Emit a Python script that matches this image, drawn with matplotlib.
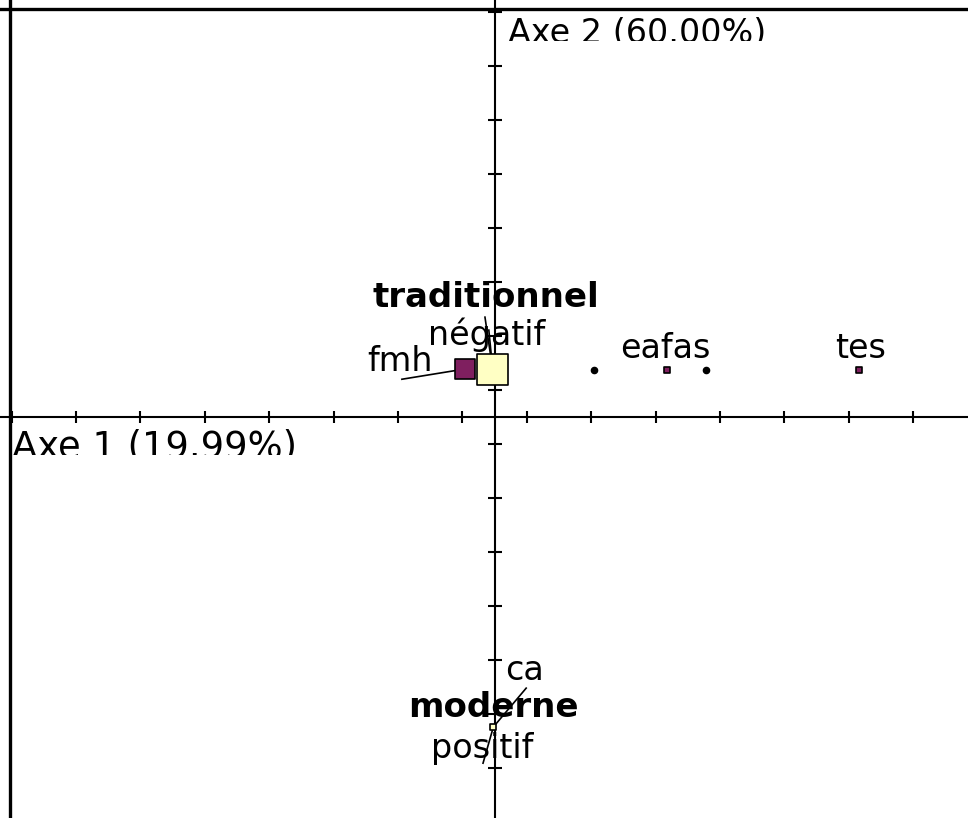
import numpy as np
import matplotlib.pyplot as plt
from matplotlib.transforms import Bbox, TransformedBbox

# factor map values (axis units = tick spacing)
col_labels = ["fmh", "eafas", "tes"]
col_x = [-0.46, 2.68, 5.66]
col_y = [0.88, 0.86, 0.86]
col_weight = [1.0, 0.08, 0.08]

row_labels = [["traditionnel", "négatif"], ["moderne", "ca", "positif"]]
row_x = [-0.03, -0.02]
row_y = [0.87, -5.75]
row_weight = [1.0, 0.035]

sup_x = [1.55, 3.28]
sup_y = [0.86, 0.86]

axis1_label = "Axe 1 (19.99%)"
axis2_label = "Axe 2 (60.00%)"

# label layout: text -> (x, y, bold, leader end or None)
label_pos = {
    "traditionnel": (-0.13, 2.03, True, (-0.15, 1.84)),
    "négatif": (-0.12, 1.32, False, (-0.09, 1.60)),
    "fmh": (-1.47, 0.84, False, (-1.44, 0.69)),
    "eafas": (2.65, 1.08, False, None),
    "tes": (5.68, 1.08, False, None),
    "ca": (0.46, -4.88, False, (0.49, -5.03)),
    "moderne": (-0.02, -5.57, True, None),
    "positif": (-0.19, -6.32, False, (-0.18, -6.42)),
}

purple = "#7F1F5F"
yellow = "#FFFFC4"

fig = plt.figure(figsize=(9.68, 8.18), dpi=100)
ax = fig.add_axes([0, 0, 1, 1])
ax.set_xlim(-7.68, 7.35)
ax.set_ylim(-7.435, 7.713)

# axes crossing at the origin
ax.spines["left"].set_position(("data", 0))
ax.spines["bottom"].set_position(("data", 0))
ax.spines["top"].set_visible(False)
ax.spines["right"].set_visible(False)
for s in ("left", "bottom"):
    ax.spines[s].set_linewidth(1.5)
ax.set_xticks(np.arange(-7.5, 7, 1))
ax.set_yticks(np.arange(-6.5, 7.6, 1))
ax.tick_params(axis="x", direction="inout", length=8, width=1.5, labelbottom=False)
ax.tick_params(axis="y", direction="inout", length=10, width=1.5, labelleft=False)

# outer frame (only left and top visible)
ax.axvline(-7.52, color="black", lw=2.4)
ax.axhline(7.545, color="black", lw=2.4)

# leader lines
for name, (lx, ly, bold, lead) in label_pos.items():
    if lead is None:
        continue
    if name in ("traditionnel", "négatif"):
        px, py = row_x[0], row_y[0]
    elif name in ("ca", "positif"):
        px, py = row_x[1], row_y[1]
    else:
        px, py = col_x[0], col_y[0]
    ax.plot([lead[0], px], [lead[1], py], color="black", lw=1.2, zorder=4)

# points
def square_sizes(w, big):
    return [big * v for v in w]

ax.scatter(col_x, col_y, s=square_sizes(col_weight, 225), marker="s",
           color=purple, edgecolors="black", linewidths=1.2, zorder=5)
ax.scatter(row_x, row_y, s=square_sizes(row_weight, 480), marker="s",
           color=yellow, edgecolors="black", linewidths=1.2, zorder=6)
ax.scatter(sup_x, sup_y, s=20, color="black", zorder=5)

# labels
for name, (lx, ly, bold, lead) in label_pos.items():
    ax.text(lx, ly, name, ha="center", va="baseline", fontsize=24.5 if bold else 24,
            fontweight="bold" if bold else "normal", color="black", zorder=3)

# axis titles, clipped at the bottom like the original
t1 = ax.text(-7.49, -0.75, axis1_label, ha="left", va="baseline", fontsize=26.6)
t1.set_clip_box(TransformedBbox(Bbox([[-7.6, -0.713], [0, 0]]), ax.transData))
t1.set_clip_on(True)
t2 = ax.text(0.21, 6.92, axis2_label, ha="left", va="baseline", fontsize=24)
t2.set_clip_box(TransformedBbox(Bbox([[0.1, 6.955], [7.3, 7.5]]), ax.transData))
t2.set_clip_on(True)

fig.savefig("out.png", dpi=100)
plt.close(fig)
